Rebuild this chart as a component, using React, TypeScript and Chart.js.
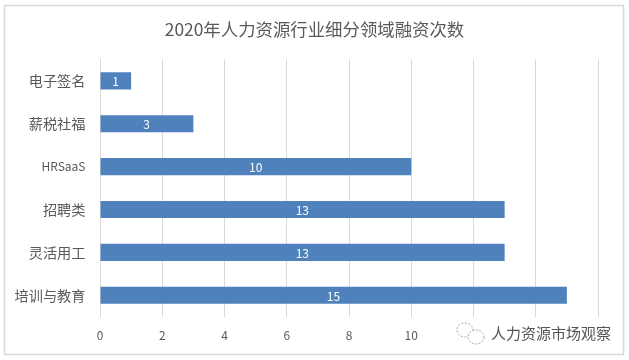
import React, { useEffect, useRef } from "react";
import { Chart, registerables } from "chart.js";

Chart.register(...registerables);

const titleText = "2020年人力资源行业细分领域融资次数";
const categories = ["电子签名", "薪税社福", "HRSaaS", "招聘类", "灵活用工", "培训与教育"];
const financingCounts = [1, 3, 10, 13, 13, 15];
const watermarkText = "人力资源市场观察";

const FONT = '"Noto Sans CJK SC", "Noto Sans", sans-serif';
const TEXT = "#595959";
const GRID = "#d9d9d9";
const BAR = "#4f81bd";

const framePlugin = {
  id: "frame",
  beforeDraw(chart: any) {
    const { ctx, width, height } = chart;
    ctx.save();
    ctx.fillStyle = "#ffffff";
    ctx.fillRect(0, 0, width, height);
    ctx.strokeStyle = GRID;
    ctx.lineWidth = 1.5;
    ctx.strokeRect(4.5, 5.5, 619, 349);
    ctx.restore();
  },
};

const barLabelPlugin = {
  id: "barLabels",
  afterDatasetsDraw(chart: any) {
    const { ctx } = chart;
    const base = chart.scales.x.getPixelForValue(0);
    ctx.save();
    ctx.fillStyle = "#ffffff";
    ctx.font = `12px ${FONT}`;
    ctx.textAlign = "center";
    ctx.textBaseline = "middle";
    chart.getDatasetMeta(0).data.forEach((bar: any, i: number) => {
      ctx.fillText(String(financingCounts[i]), (base + bar.x) / 2, bar.y + 1);
    });
    ctx.restore();
  },
};

const watermarkPlugin = {
  id: "watermark",
  afterDraw(chart: any) {
    const { ctx } = chart;
    ctx.save();
    ctx.fillStyle = "#ffffff";
    ctx.fillRect(452, 320, 165, 28);
    ctx.strokeStyle = "#a6a6a6";
    ctx.lineWidth = 1;
    ctx.setLineDash([2, 1.5]);
    ctx.beginPath();
    ctx.ellipse(465, 330, 8, 7, 0, 0, Math.PI * 2);
    ctx.stroke();
    ctx.fillStyle = "#ffffff";
    ctx.beginPath();
    ctx.ellipse(476, 337, 8, 7, 0, 0, Math.PI * 2);
    ctx.fill();
    ctx.stroke();
    ctx.setLineDash([]);
    ctx.fillStyle = "#555555";
    ctx.font = `15px ${FONT}`;
    ctx.textAlign = "left";
    ctx.textBaseline = "middle";
    ctx.fillText(watermarkText, 491, 333);
    ctx.restore();
  },
};

export default function App() {
  const ref = useRef<HTMLCanvasElement>(null);

  useEffect(() => {
    const chart = new Chart(ref.current!, {
      type: "bar",
      data: {
        labels: categories,
        datasets: [
          {
            data: financingCounts,
            backgroundColor: BAR,
            categoryPercentage: 1,
            barPercentage: 0.4,
            borderWidth: 0,
          },
        ],
      },
      options: {
        indexAxis: "y",
        animation: false,
        responsive: false,
        layout: { padding: 0 },
        plugins: {
          legend: { display: false },
          tooltip: { enabled: false },
          title: {
            display: true,
            text: titleText,
            color: TEXT,
            font: { family: FONT, size: 17.4, weight: "normal" },
            padding: { top: 18.6, bottom: 20 },
          },
        },
        scales: {
          x: {
            min: 0,
            max: 16,
            ticks: {
              stepSize: 2,
              color: TEXT,
              font: { family: FONT, size: 12 },
              padding: 12,
              maxRotation: 0,
            },
            grid: { color: GRID, drawTicks: false },
            border: { display: false },
            afterFit(scale: any) {
              scale.height = 43.3;
            },
          },
          y: {
            ticks: {
              color: TEXT,
              font: (c: any) => ({
                family: FONT,
                size: categories[c.index] === "HRSaaS" ? 12 : 14.2,
              }),
              padding: 14.5,
            },
            grid: { display: false, drawTicks: false },
            border: { display: true, color: GRID },
            afterFit(scale: any) {
              scale.width = 100;
            },
          },
          rightGutter: {
            axis: "y",
            type: "linear",
            position: "right",
            ticks: { display: false },
            grid: { display: false, drawTicks: false },
            border: { display: false },
            afterFit(scale: any) {
              scale.width = 31;
            },
          },
        },
      },
      plugins: [framePlugin, barLabelPlugin, watermarkPlugin],
    } as any);
    return () => chart.destroy();
  }, []);

  return (
    <div style={{ position: "absolute", left: 0, top: 0, width: 629, height: 360 }}>
      <canvas ref={ref} width={629} height={360} style={{ display: "block" }} />
    </div>
  );
}
